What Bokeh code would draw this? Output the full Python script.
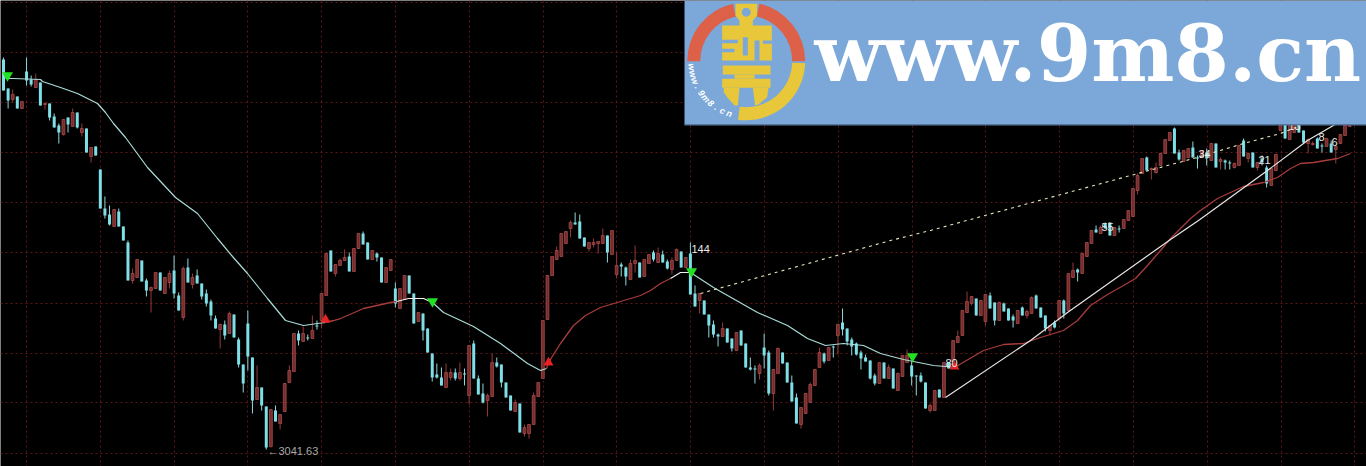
from math import pi, cos, sin, radians
from bokeh.plotting import figure
from bokeh.models import Range1d, FixedTicker
from bokeh.core.properties import value
from bokeh.embed import file_html
from bokeh.resources import INLINE

# candle readings, measured downward from the top of the chart
kinds = ("ccrcrccrcr" "cccrcrcrcr" "ccccrcccrr" "ccrrcrrccr" "crcccccrcr" "cccccrccrc" "rrrrcrcrcr"
         "rcrrrcrrcc" "rccrrcrrcc" "rcccccrrcr" "crcccrrccc" "crcrrrrrrr" "rrrrcccrrr" "rcrrccrrcr"
         "rcrccrrcrc" "crccccrccr" "ccccrccrrc" "cccrrrrrcr" "crcccccccc" "rcrcrrrccc" "crrcrcrrrr"
         "rcrrccrccc" "rcrrcccrcr" "crrcrrrcrc" "crcrrrrrcr" "rrrrccrrcc" "rcrcrccrrc" "rcrccrrrcr"
         "rccrrccrcr" "rrr")
body_top = [
 59,88,94,96,101,71,79,79,82,103, 103,116,125,119,117,112,112,128,128,147,
 146,169,208,214,209,211,226,242,273,259, 260,280,287,272,272,277,273,270,295,268,
 267,277,275,283,293,301,318,324,324,313, 314,339,364,323,357,387,387,406,409,410,
 414,383,370,333,333,333,337,330,325,293, 253,250,264,260,257,256,248,233,233,242,
 250,253,257,267,259,288,288,275,275,293, 312,313,328,353,374,377,372,372,372,372,
 373,345,343,378,393,395,362,362,364,382, 395,402,403,427,424,395,382,320,275,256,
 250,233,231,222,222,221,237,242,242,241, 235,235,230,265,264,267,263,260,262,259,
 254,252,253,254,261,260,249,251,257,253, 293,293,300,314,324,334,328,328,338,332,
 330,343,367,368,365,347,352,369,348,352, 362,382,397,407,393,384,369,352,353,347,
 346,324,322,328,339,343,352,357,360,375, 362,362,367,368,373,355,355,365,375,375,
 382,405,390,389,362,362,340,336,310,301, 296,298,300,294,295,302,302,303,308,316,
 310,307,311,297,295,307,315,325,322,300, 300,273,270,269,253,242,230,229,227,223,
 222,227,228,219,210,188,175,158,157,168, 167,153,139,132,128,152,150,148,147,157,
 150,152,143,143,159,160,162,163,145,140, 153,152,162,158,167,168,154,124,124,124,
 124,124,130,139,143,138,145,138,143,146, 134,125,124]
body_bot = [
 90,100,99,108,108,80,84,87,105,104, 117,127,132,134,124,126,127,132,152,156,
 155,208,215,224,226,226,240,280,280,277, 281,290,290,288,290,293,282,293,310,317,
 282,284,283,296,303,315,328,329,335,333, 337,364,383,356,400,399,405,447,446,421,
 423,411,382,371,340,341,338,338,326,320, 295,271,273,265,260,271,271,248,244,259,
 259,257,282,282,270,303,308,299,293,323, 321,330,352,377,377,385,387,377,378,378,
 374,395,378,394,402,400,396,366,382,397, 410,411,432,433,433,424,396,378,319,275,
 259,256,243,228,224,238,246,248,244,243, 243,252,254,274,266,276,279,263,277,276,
 263,259,262,262,268,269,260,267,267,294, 306,300,314,325,334,336,336,342,348,350,
 345,367,369,369,373,355,393,393,373,363, 382,401,423,424,413,402,385,367,361,360,
 347,335,329,341,346,354,358,361,378,383, 383,378,378,388,390,376,362,376,376,381,
 408,410,410,397,397,368,361,342,335,312, 303,315,315,321,308,320,320,311,320,320,
 323,315,315,313,308,317,328,330,327,318, 313,310,277,272,273,256,243,232,233,228,
 235,235,229,228,220,216,190,173,170,169, 172,165,153,140,153,159,161,157,157,158,
 157,158,160,167,161,162,163,167,165,156, 158,167,167,162,183,185,170,130,138,139,
 132,132,142,143,144,148,146,146,152,149, 143,135,126]
high = [
 57,88,89,96,101,57,75,73,82,102, 103,113,123,119,117,108,112,123,128,147,
 146,169,196,205,209,208,226,240,268,259, 260,278,286,272,272,277,270,255,292,266,
 258,273,269,283,289,299,315,323,320,311, 314,337,364,310,357,365,387,406,409,405,
 414,383,365,333,330,326,334,315,320,293, 253,250,264,258,249,252,248,233,231,242,
 250,252,257,267,259,282,288,275,275,293, 312,313,328,353,363,367,363,368,368,362,
 368,345,340,375,383,393,353,357,364,382, 395,399,403,424,424,392,382,320,275,256,
 246,233,231,220,212,214,237,242,238,241, 228,235,230,252,262,266,259,245,262,259,
 254,250,247,250,259,257,248,251,257,242, 285,293,300,314,320,333,322,328,338,332,
 330,343,357,365,363,333,350,369,347,352, 362,375,393,407,393,382,369,347,352,347,
 345,323,308,328,337,342,350,354,360,373, 362,362,364,368,372,355,349,360,375,372,
 382,403,390,389,362,362,340,330,310,291, 296,298,300,294,292,302,301,302,308,314,
 310,306,309,296,294,307,315,325,320,300, 299,273,262,268,253,242,230,225,225,222,
 222,227,225,219,210,188,173,158,156,167, 162,153,139,132,127,149,150,148,141,155,
 150,148,143,143,157,159,160,162,145,138, 152,152,162,155,165,168,154,124,124,124,
 124,124,130,138,141,137,143,138,140,145, 134,125,124]
low = [
 90,108,102,108,108,85,86,87,105,109, 120,127,143,135,132,126,128,136,152,162,
 155,208,218,225,226,226,240,280,283,277, 281,296,312,288,290,293,288,298,310,320,
 282,288,283,299,306,320,328,348,339,333, 337,367,392,370,413,399,410,449,447,421,
 429,411,382,371,345,341,340,338,329,328, 295,271,276,265,260,271,271,248,244,259,
 259,261,282,282,270,307,308,299,293,323, 321,340,352,381,378,385,387,380,380,380,
 385,404,378,394,403,416,396,367,387,397, 410,411,432,436,438,424,396,378,319,275,
 259,256,243,237,224,238,246,251,247,253, 243,262,254,278,276,285,279,272,277,276,
 263,261,262,262,269,274,260,267,267,294, 306,313,314,337,337,346,336,342,351,350,
 345,367,370,383,379,368,395,410,373,363, 382,401,423,428,413,402,385,367,363,360,
 357,354,335,345,355,355,369,361,379,385, 383,378,378,388,390,376,362,385,395,382,
 408,412,410,397,397,368,361,342,335,312, 305,315,315,325,308,325,320,311,320,327,
 323,315,318,313,308,317,331,335,328,320, 318,310,277,281,273,256,243,232,233,228,
 235,235,232,228,220,216,194,173,170,179, 173,165,153,140,153,160,161,157,157,168,
 157,165,160,167,169,169,169,168,165,156, 162,167,170,165,187,185,170,130,138,139,
 132,132,143,153,145,148,152,146,152,163, 143,135,126]

# moving-average line, by stretch
ma_down1_x = [5,13,40,42,60,77,97,105,113,125,147,175,197,217,232,247,267,285,303,317,325]
ma_down1_y = [78,78,79,81,87,93,103,112,123,137,167,197,213,238,256,273,298,320,325,323,322]
ma_up1_x = [325,333,340,363,390,396]
ma_up1_y = [322,320,318,308,302,301]
ma_top1_x = [396,408,423,432]
ma_top1_y = [301,298,298,302]
ma_down2_x = [432,443,473,500,527,540,546]
ma_down2_y = [302,312,326,343,363,370,368]
ma_up2_x = [546,548,560,573,585,600,620,640,650,660,670]
ma_up2_y = [368,362,343,325,315,307,301,295,290,283,278]
ma_top2_x = [670,680,690]
ma_top2_y = [278,272,272]
ma_down3_x = [690,713,757,787,807,825,843,863,880,903,933,945,954]
ma_down3_y = [272,287,312,325,338,345,343,345,353,359,365,366,367]
ma_up3_x = [954,983,1003,1023,1040,1063,1077,1090,1107,1123,1135,1147,1160,1170,1190,1200,1217,1243,1263,1277,1290,1300,1313,1337,1350]
ma_up3_y = [367,350,344,343,337,330,320,305,294,285,278,265,250,238,218,210,198,186,182,177,168,163,162,158,153]

rise_x = [945,1030,1067,1170,1198,1267,1307,1338,1350]
rise_y = [397,340,312,239,220,170,140,122,113]
dash_x = [700,890,930,1057,1130,1193,1243,1280,1300]
dash_y = [293,240,230,195,175,158,143,133,125]

sell_x = [7,432,691,912]
sell_y = [75,301,271,356]
buy_x = [325,548,954]
buy_y = [319,362,366]

label_text = ["\u21903041.63","144","80","55","34","21","13","8","6"]
label_x = [267,691,945,1101,1198,1258,1288,1318,1331]
label_y = [450,248,362,226,153,159,125,136,141]
label_color = ["#a8a8a8","#e8e8e8","#e8e8e8","#e8e8e8","#e8e8e8","#e8e8e8","#e8e8e8","#e8e8e8","#e8e8e8"]

grid_x_ticks = [26+73.8*k for k in range(19)]
grid_y_ticks = [2,52,102,152,202,252,303,353,402,453]

site_text = "www.9m8.cn"

CYAN, RED_EDGE, RED_FILL, RED_WICK = "#7fdfe6", "#a84a4a", "#742c2c", "#963a3a"

p = figure(width=1366, height=466, output_backend="svg", toolbar_location=None,
           x_range=Range1d(0, 1366), y_range=Range1d(466, 0),
           background_fill_color="#000000", border_fill_color="#000000",
           min_border=0, outline_line_color=None,
           styles={"position": "absolute", "left": "0", "top": "0"})
p.xaxis.visible = False
p.yaxis.visible = False
for g, t in ((p.xgrid[0], grid_x_ticks), (p.ygrid[0], grid_y_ticks)):
    g.ticker = FixedTicker(ticks=t)
    g.grid_line_color = "#5e1616"
    g.grid_line_dash = "2 3"
    g.grid_line_width = 1

xs = [3 + 4.61*i for i in range(len(body_top))]
for kind, edge, fill, wick, w, lw in (("c", CYAN, CYAN, "#8fd8dc", 3.0, 0), ("r", RED_EDGE, RED_FILL, RED_WICK, 2.8, 0.8)):
    idx = [i for i, k in enumerate(kinds) if k == kind]
    p.segment([xs[i] for i in idx], [high[i] for i in idx], [xs[i] for i in idx], [low[i] for i in idx],
              line_color=wick, line_width=1)
    p.vbar([xs[i] for i in idx], width=w, top=[body_top[i] for i in idx], bottom=[body_bot[i] for i in idx],
           fill_color=fill, line_color=edge, line_width=lw)

for lx, ly, col, lw in ((ma_down1_x, ma_down1_y, "#a8dcd8", 1.2), (ma_up1_x, ma_up1_y, "#a83c3c", 1.3),
                        (ma_top1_x, ma_top1_y, "#f0f0f0", 1.2), (ma_down2_x, ma_down2_y, "#a8dcd8", 1.2),
                        (ma_up2_x, ma_up2_y, "#a83c3c", 1.3), (ma_top2_x, ma_top2_y, "#f0f0f0", 1.2),
                        (ma_down3_x, ma_down3_y, "#a8dcd8", 1.2), (ma_up3_x, ma_up3_y, "#a83c3c", 1.3)):
    p.line(lx, ly, line_color=col, line_width=lw)
p.line(rise_x, rise_y, line_color="#e6e6e6", line_width=1.2)
p.line(dash_x, dash_y, line_color="#e8e4b8", line_width=1.1, line_dash="3 4")

p.scatter(sell_x, sell_y, marker="inverted_triangle", size=11, fill_color="#22e022", line_color=None)
p.scatter(buy_x, buy_y, marker="triangle", size=10, fill_color="#e82222", line_color=None)

p.text(label_x, label_y, text=label_text, text_color=label_color, text_font=value("Liberation Sans"),
       text_font_size="11px", text_baseline="middle", text_align="left")

# site banner
p.quad(left=[684], right=[1366], top=[0], bottom=[124], fill_color="#7ba8d8", line_color=None)
p.quad(left=[684], right=[1366], top=[123.5], bottom=[125], fill_color="#57789c", line_color=None)
cx, cy = 745.7, 60.7
for a0, a1, col in ((103, 180, "#dd6049"), (0, 77, "#dd6049"), (262, 358, "#e8c83a")):
    p.annular_wedge([cx], [cy], inner_radius=46, outer_radius=59, start_angle=radians(a0), end_angle=radians(a1),
                    fill_color=col, line_color=None)

def lz(pts):
    return [684 + a/3 for a, b in pts], [b/3 for a, b in pts]

gold = [
    [(153,10),(218,10),(218,45),(205,60),(205,75),(262,75),(262,180),(113,180),(113,75),(165,75),(165,60),(153,45)],
    [(115,195),(258,195),(258,222),(115,222)],
    [(113,235),(258,235),(258,262),(113,262)],
    [(150,222),(210,222),(210,235),(150,235)],
    [(118,262),(165,262),(160,315),(150,315),(128,290),(118,275)],
    [(205,262),(252,262),(248,290),(222,312),(212,315)],
]
for poly in gold:
    gx, gy = lz(poly)
    p.patch(gx, gy, fill_color="#e8c83a", line_color=None)
cuts = [
    [(113,118),(160,118),(160,128),(113,128)],
    [(113,145),(150,145),(150,155),(113,155)],
    [(175,110),(190,110),(190,165),(175,165)],
    [(210,120),(225,120),(225,180),(210,180)],
    [(235,120),(262,120),(262,130),(235,130)],
]
for poly in cuts:
    gx, gy = lz(poly)
    p.patch(gx, gy, fill_color="#7ba8d8", line_color=None)
p.scatter([684 + 185/3], [35/3], marker="circle", size=9, fill_color="#7ba8d8", line_color=None)

for k, ch in enumerate(site_text):
    th = 186 + (252-186)*k/(len(site_text)-1)
    p.text([cx + 55*cos(radians(th))], [cy - 55*sin(radians(th))], text=[ch], angle=radians(th+90),
           text_color="#ffffff", text_font=value("Liberation Sans"), text_font_size="9px",
           text_font_style="bold italic", text_align="center", text_baseline="middle")

p.text([814], [99], text=[site_text], text_color="#ffffff", text_font=value("DejaVu Serif"),
       text_font_size="78.5px", text_font_style="bold", text_baseline="bottom", text_align="left")

open("out.html", "w").write(file_html(p, INLINE))
